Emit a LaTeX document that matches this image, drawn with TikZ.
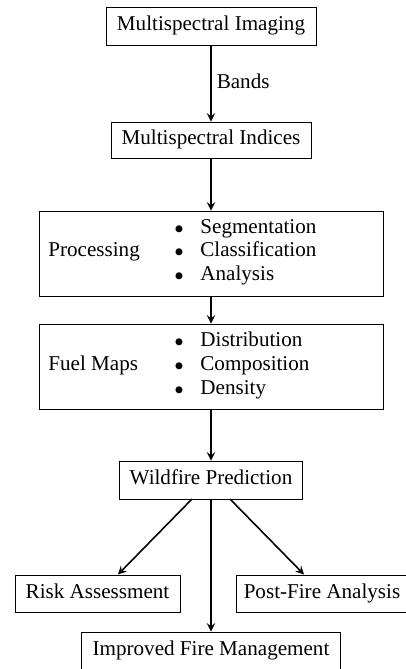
\documentclass[tikz,border=0pt]{standalone}
\usepackage{fontspec}
\setmainfont{Liberation Serif}
\def\pxu{0.474pt}
\tikzset{
  box/.style={draw, line width=0.45pt, inner sep=0pt},
  arr/.style={->, >=stealth, line width=0.75pt},
  txt/.style={inner sep=0pt, text height=6.8pt, text depth=2.2pt, font=\fontsize{10pt}{12pt}\selectfont},
  bul/.style={inner sep=0pt, font=\fontsize{8pt}{10pt}\selectfont},
}
\begin{document}
\begin{tikzpicture}[x=\pxu, y=-\pxu]
\useasboundingbox (0,0) rectangle (406,669);
\node[box, minimum width=210*\pxu, minimum height=38*\pxu] (mi) at (211,26) {};
\node[txt] (mit) at (mi.center) {Multispectral Imaging};
\node[box, minimum width=200*\pxu, minimum height=36*\pxu] (ind) at (211,140) {};
\node[txt] (indt) at (ind.center) {Multispectral Indices};
\node[box, minimum width=344*\pxu, minimum height=85*\pxu] (proc) at (211,253.5) {};
\node[txt, anchor=west] (proct) at (48,252) {Processing};
\node[bul] (pb1) at (179,230) {$\bullet$};
\node[bul] (pb2) at (179,253) {$\bullet$};
\node[bul] (pb3) at (179,277) {$\bullet$};
\node[txt, anchor=west] (pi1) at (200,229) {Segmentation};
\node[txt, anchor=west] (pi2) at (200,252) {Classification};
\node[txt, anchor=west] (pi3) at (200,276) {Analysis};
\node[box, minimum width=344*\pxu, minimum height=85*\pxu] (fuel) at (211,366.5) {};
\node[txt, anchor=west] (fuelt) at (48,366) {Fuel Maps};
\node[bul] (fb1) at (179,343) {$\bullet$};
\node[bul] (fb2) at (179,367) {$\bullet$};
\node[bul] (fb3) at (179,391) {$\bullet$};
\node[txt, anchor=west] (fi1) at (200,342) {Distribution};
\node[txt, anchor=west] (fi2) at (200,366) {Composition};
\node[txt, anchor=west] (fi3) at (200,390) {Density};
\node[box, minimum width=183*\pxu, minimum height=38*\pxu] (wp) at (211,480) {};
\node[txt] (wpt) at (wp.center) {Wildfire Prediction};
\node[box, minimum width=165*\pxu, minimum height=37*\pxu] (ra) at (97.5,593.5) {};
\node[txt] (rat) at (ra.center) {Risk Assessment};
\node[box, minimum width=172*\pxu, minimum height=37*\pxu] (pf) at (322,593.5) {};
\node[txt] (pft) at (pf.center) {Post-Fire Analysis};
\node[box, minimum width=259*\pxu, minimum height=38*\pxu] (ifm) at (211,651) {};
\node[txt] (ifmt) at (ifm.center) {Improved Fire Management};
\draw[arr] (mi.south) -- node[txt, right=5*\pxu] (bands) {Bands} (mi.south |- ind.north);
\draw[arr] (ind.south) -- (ind.south |- proc.north);
\draw[arr] (proc.south) -- (fuel.north);
\draw[arr] (fuel.south) -- (wp.north);
\coordinate (wpl) at (192,499);
\coordinate (wpr) at (230,499);
\coordinate (ral) at (118,574.5);
\coordinate (pfl) at (304,574.5);
\draw[arr] (wpl) -- (ral);
\draw[arr] (wpr) -- (pfl);
\draw[arr] (wp.south) -- (ifm.north);
\end{tikzpicture}
\end{document}
